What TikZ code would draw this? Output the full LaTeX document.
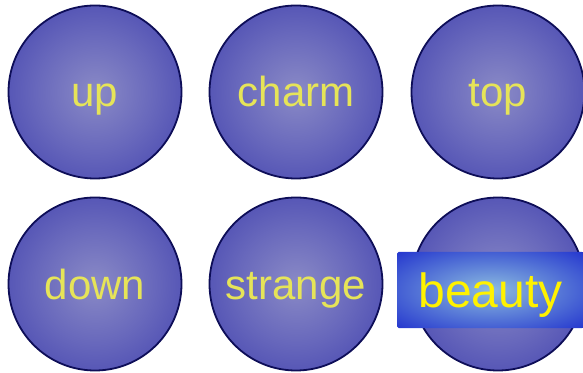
\documentclass[tikz,border=0pt]{standalone}
\usepackage{fontspec}
\setmainfont{Liberation Sans}
\usetikzlibrary{positioning}
\usepackage{xcolor}
\definecolor{ballrim}{HTML}{0E0E58}
\definecolor{ballblue}{HTML}{3434AA}
\definecolor{ballmid}{HTML}{4646B0}
\definecolor{balllight}{HTML}{6868BC}
\definecolor{ballcore}{HTML}{8A8AC6}
\definecolor{quarktext}{HTML}{E6E458}
\definecolor{boxblue}{HTML}{0008C8}
\definecolor{boxcore}{HTML}{8CBCE0}
\pgfdeclareradialshading{ballglow}{\pgfpoint{0bp}{0bp}}{color(0bp)=(ballcore); color(17bp)=(balllight); color(33bp)=(ballmid); color(50bp)=(ballblue)}
\pgfdeclareradialshading{boxglow}{\pgfpoint{0bp}{0bp}}{color(0bp)=(boxcore); color(48bp)=(boxblue); color(70bp)=(boxblue)}

\begin{document}
\begin{tikzpicture}[node distance=201pt, every node/.style={font=\fontsize{42}{46}\selectfont},
  quark/.style={circle, draw=ballrim, line width=1.8pt, minimum size=173pt, inner sep=0pt,
    shading=ballglow, text=quarktext, text height=30pt, text depth=0pt}]
  \useasboundingbox (0,0) rectangle (583pt,372pt);

  % Top row
  \node (up) [quark] at (95pt,280pt) {up};
  \node (charm) [quark, right of=up] {charm};
  \node (top) [quark, right of=charm, xshift=1pt] {top};

  % Bottom row
  \node (down) [quark, below of=up, yshift=9pt] {down};
  \node (strange) [quark, right of=down] {strange};
  \node (beauty) [quark, right of=strange, xshift=1pt] {};

  % Label box over the last ball
  \node (beautylabel) [rounded corners=1.5pt, minimum width=187pt, minimum height=76pt, inner sep=0pt,
    shading=boxglow, text=yellow, text height=36pt, text depth=0pt,
    font=\fontsize{48}{50}\selectfont] at ([xshift=-7.5pt, yshift=-6pt]beauty.center) {beauty};
\end{tikzpicture}
\end{document}
